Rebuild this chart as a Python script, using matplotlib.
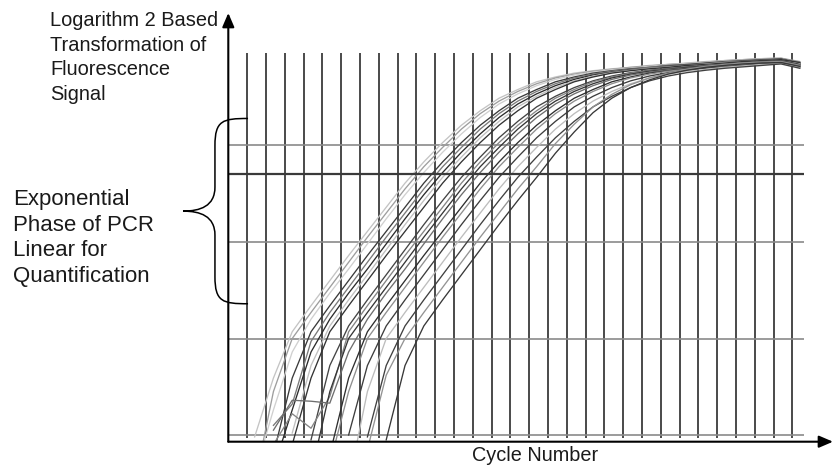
import numpy as np
import matplotlib.pyplot as plt
from matplotlib.path import Path
from matplotlib.patches import PathPatch

plt.rcParams['font.family'] = ['Liberation Sans', 'DejaVu Sans']

# ---------------------------------------------------------------------------
# Grille de l'instrument (cycles) et niveaux log2
# ---------------------------------------------------------------------------
GRID_CYCLES = np.arange(1, 31) + 0.6
LOG2_LEVELS = [0, 1, 2, 3]
THRESHOLD = 2.70
BRACE_LOW, BRACE_HIGH = 1.36, 3.28

# courbes d'amplification (log2 du signal), une valeur par cycle, finissent au cycle 31
well_01 = [-0.02, 0.59, 1.07, 1.34, 1.60, 1.86, 2.11, 2.36, 2.61, 2.83, 3.03, 3.21, 3.36, 3.49, 3.58,
           3.66, 3.71, 3.75, 3.775, 3.795, 3.81, 3.83, 3.84, 3.855, 3.87, 3.88, 3.89, 3.90, 3.905, 3.86]
well_02 = [-0.5, 0.45, 1.00, 1.27, 1.53, 1.79, 2.05, 2.30, 2.55, 2.78, 2.98, 3.17, 3.33, 3.46, 3.56,
           3.64, 3.70, 3.74, 3.77, 3.79, 3.81, 3.825, 3.84, 3.85, 3.865, 3.88, 3.89, 3.90, 3.905, 3.87]
well_03 = [-0.4, 0.26, 0.86, 1.20, 1.47, 1.72, 1.98, 2.24, 2.49, 2.72, 2.93, 3.12, 3.29, 3.43, 3.535,
           3.62, 3.685, 3.73, 3.76, 3.785, 3.80, 3.82, 3.835, 3.85, 3.86, 3.875, 3.885, 3.895, 3.90, 3.85]
well_04 = [-0.2, 0.59, 1.07, 1.34, 1.60, 1.86, 2.11, 2.36, 2.61, 2.83, 3.03, 3.21, 3.36, 3.49, 3.58,
           3.66, 3.71, 3.75, 3.775, 3.795, 3.81, 3.83, 3.84, 3.855, 3.87, 3.88, 3.89, 3.895, 3.85]
well_05 = [0.10, 0.32, 0.97, 1.27, 1.53, 1.79, 2.05, 2.30, 2.55, 2.78, 2.98, 3.17, 3.33, 3.46, 3.56,
           3.64, 3.70, 3.74, 3.77, 3.79, 3.81, 3.825, 3.84, 3.85, 3.865, 3.88, 3.89, 3.90, 3.86]
well_06 = [-0.35, 0.26, 0.86, 1.20, 1.47, 1.72, 1.98, 2.24, 2.49, 2.72, 2.93, 3.12, 3.29, 3.43, 3.535,
           3.62, 3.685, 3.73, 3.76, 3.785, 3.80, 3.82, 3.835, 3.85, 3.86, 3.875, 3.885, 3.895, 3.85]
well_07 = [0.02, 0.72, 1.13, 1.40, 1.66, 1.92, 2.18, 2.43, 2.67, 2.88, 3.08, 3.25, 3.40, 3.51, 3.60,
           3.67, 3.72, 3.755, 3.78, 3.80, 3.815, 3.83, 3.845, 3.86, 3.87, 3.88, 3.89, 3.85]
well_08 = [-0.1, 0.59, 1.07, 1.34, 1.60, 1.86, 2.11, 2.36, 2.61, 2.83, 3.03, 3.21, 3.36, 3.49, 3.58,
           3.66, 3.71, 3.75, 3.775, 3.795, 3.81, 3.83, 3.84, 3.855, 3.87, 3.88, 3.89, 3.86]
well_09 = [-0.05, 0.72, 1.13, 1.40, 1.66, 1.92, 2.18, 2.43, 2.67, 2.88, 3.08, 3.25, 3.40, 3.51, 3.60,
           3.67, 3.72, 3.755, 3.78, 3.80, 3.815, 3.83, 3.845, 3.86, 3.87, 3.88, 3.84]
well_10 = [-0.1, 0.22, 0.07, 0.40, 1.07, 1.34, 1.60, 1.86, 2.11, 2.36, 2.61, 2.83, 3.03, 3.21, 3.36,
           3.49, 3.58, 3.66, 3.71, 3.75, 3.775, 3.795, 3.81, 3.83, 3.84, 3.855, 3.865, 3.875, 3.83]
well_11 = [-0.4, 0.45, 1.00, 1.27, 1.53, 1.79, 2.05, 2.30, 2.55, 2.78, 2.98, 3.17, 3.33, 3.46, 3.56,
           3.64, 3.70, 3.74, 3.77, 3.79, 3.81, 3.825, 3.84, 3.85, 3.865, 3.875, 3.835]
well_12 = [0.05, 0.36, 0.35, 0.33, 0.86, 1.20, 1.47, 1.72, 1.98, 2.24, 2.49, 2.72, 2.93, 3.12, 3.29,
           3.43, 3.535, 3.62, 3.685, 3.73, 3.76, 3.785, 3.80, 3.82, 3.835, 3.85, 3.86, 3.87, 3.83]
well_13 = [-0.2, 0.59, 1.07, 1.34, 1.60, 1.86, 2.11, 2.36, 2.61, 2.83, 3.03, 3.21, 3.36, 3.49, 3.58,
           3.66, 3.71, 3.75, 3.775, 3.795, 3.81, 3.83, 3.84, 3.855, 3.865, 3.82]
well_14 = [-0.3, 0.45, 1.00, 1.27, 1.53, 1.79, 2.05, 2.30, 2.55, 2.78, 2.98, 3.17, 3.33, 3.46, 3.56,
           3.64, 3.70, 3.74, 3.77, 3.79, 3.81, 3.825, 3.84, 3.85, 3.86, 3.82]
well_15 = [0.0, 0.72, 1.13, 1.40, 1.66, 1.92, 2.18, 2.43, 2.67, 2.88, 3.08, 3.25, 3.40, 3.51, 3.60,
           3.67, 3.72, 3.755, 3.78, 3.80, 3.815, 3.83, 3.845, 3.855, 3.81]
well_16 = [-0.5, 0.45, 1.00, 1.27, 1.53, 1.79, 2.05, 2.30, 2.55, 2.78, 2.98, 3.17, 3.33, 3.46, 3.56,
           3.64, 3.70, 3.74, 3.77, 3.79, 3.81, 3.825, 3.84, 3.85, 3.81]
well_17 = [-0.02, 0.72, 1.13, 1.40, 1.66, 1.92, 2.18, 2.43, 2.67, 2.88, 3.08, 3.25, 3.40, 3.51, 3.60,
           3.67, 3.72, 3.755, 3.78, 3.80, 3.815, 3.83, 3.845, 3.80]
well_18 = [-0.15, 0.62, 1.00, 1.27, 1.53, 1.79, 2.05, 2.30, 2.55, 2.78, 3.02, 3.22, 3.40, 3.53, 3.63,
           3.70, 3.75, 3.79, 3.82, 3.84, 3.855, 3.865, 3.87, 3.83]
well_19 = [-0.05, 0.72, 1.13, 1.40, 1.66, 1.92, 2.18, 2.43, 2.67, 2.92, 3.14, 3.34, 3.49, 3.60, 3.68,
           3.74, 3.78, 3.81, 3.83, 3.845, 3.855, 3.86, 3.82]

WELLS = [well_01, well_02, well_03, well_04, well_05, well_06, well_07, well_08, well_09, well_10,
         well_11, well_12, well_13, well_14, well_15, well_16, well_17, well_18, well_19]
WELL_COLORS = ['#c4c4c4', '#9e9e9e', '#d0d0d0', '#3a3a3a', '#7a7a7a', '#2c2c2c', '#c0c0c0',
               '#333333', '#444444', '#858585', '#363636', '#6e6e6e', '#2e2e2e', '#8f8f8f',
               '#3d3d3d', '#bdbdbd', '#404040', '#939393', '#383838']
LAST_CYCLE = 31

# ---------------------------------------------------------------------------
# FIGURE
# ---------------------------------------------------------------------------
W, H = 835, 467
fig = plt.figure(figsize=(W / 100, H / 100), dpi=100)
ax = fig.add_axes([228.3 / W, (H - 441.7) / H, (833 - 228.3) / W, (441.7 - 13) / H])
x0 = 0.6
ax.set_xlim(x0, x0 + (833 - 228.3) / 18.8)
ax.set_ylim(-0.0694, 4.373)
ax.axis('off')

# grille
ax.vlines(GRID_CYCLES, -0.03, 3.955, color='#3c3c3c', lw=1.3, zorder=1)
ax.hlines(LOG2_LEVELS, x0, 31.22, color='#8a8a8a', lw=1.2, zorder=1)

# courbes
for vals, col in zip(WELLS, WELL_COLORS):
    cyc = np.arange(LAST_CYCLE + 1 - len(vals), LAST_CYCLE + 1)
    ax.plot(cyc, vals, color=col, lw=0.95, zorder=2)

# seuil
ax.hlines(THRESHOLD, x0, 31.22, color='#3a3a3a', lw=1.6, zorder=3)

# axes avec flèches
arrow = dict(arrowstyle='-|>,head_length=0.7,head_width=0.3', color='black', lw=1.5,
             shrinkA=0, shrinkB=0, mutation_scale=12)
ax.annotate('', xy=(x0, 4.373), xytext=(x0, -0.0694), arrowprops=arrow, annotation_clip=False)
ax.annotate('', xy=(x0 + (833 - 228.3) / 18.8, -0.0694), xytext=(x0, -0.0694),
            arrowprops=arrow, annotation_clip=False)

# accolade phase exponentielle
mid = (BRACE_LOW + BRACE_HIGH) / 2
xr, xv, xt = 1.65, -0.11, -1.81
verts = [(xr, BRACE_HIGH),
         (0.3, BRACE_HIGH), (xv, BRACE_HIGH - 0.02), (xv, BRACE_HIGH - 0.28),
         (xv, mid + 0.25),
         (xv, mid + 0.05), (-0.9, mid), (xt, mid),
         (-0.9, mid), (xv, mid - 0.05), (xv, mid - 0.25),
         (xv, BRACE_LOW + 0.28),
         (xv, BRACE_LOW + 0.02), (0.3, BRACE_LOW), (xr, BRACE_LOW)]
codes = [Path.MOVETO] + [Path.CURVE4] * 3 + [Path.LINETO] + [Path.CURVE4] * 6 + \
        [Path.LINETO] + [Path.CURVE4] * 3
ax.add_patch(PathPatch(Path(verts, codes), fill=False, ec='black', lw=1.1, clip_on=False, zorder=4))

# textes
fig.text(50 / W, 1 - 11 / H, "Logarithm 2 Based\nTransformation of\nFluorescence\nSignal",
         ha='left', va='top', fontsize=14.4, color='#1a1a1a', linespacing=1.37)
fig.text(13 / W, 1 - 189 / H, "Exponential\nPhase of PCR\nLinear for\nQuantification",
         ha='left', va='top', fontsize=16, color='#1a1a1a', linespacing=1.29)
fig.text(535 / W, 1 - 461 / H, "Cycle Number", ha='center', va='baseline',
         fontsize=14.3, color='#1a1a1a')

fig.savefig("out.png", dpi=100)
